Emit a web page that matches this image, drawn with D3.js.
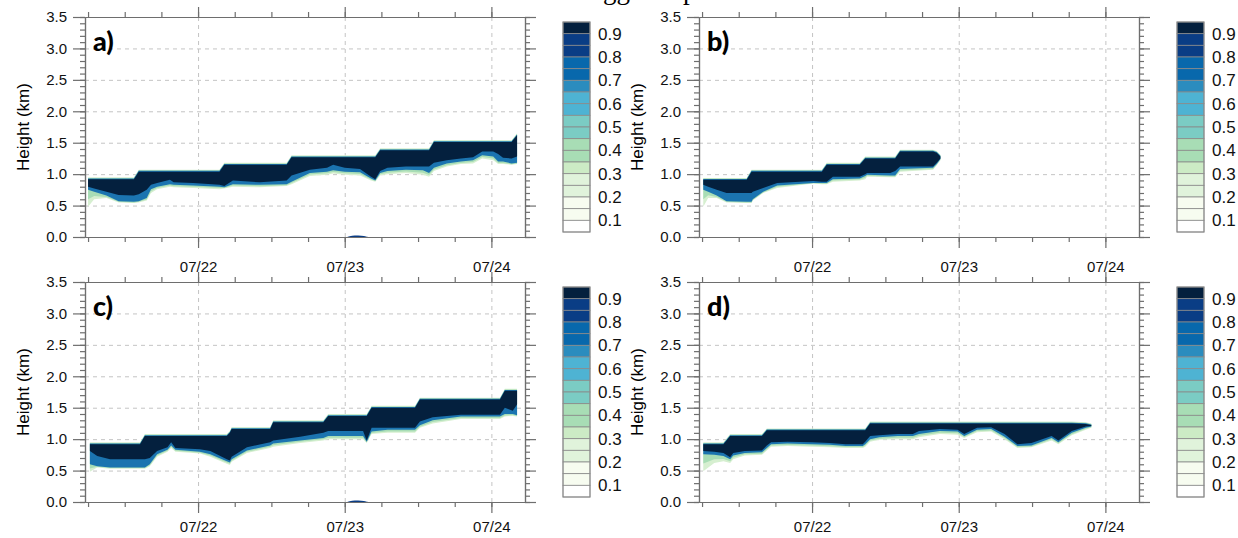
<!DOCTYPE html>
<html>
<head>
<meta charset="utf-8">
<script src="https://cdn.jsdelivr.net/npm/d3@7"></script>
<style>
  body { margin: 0; background: #fff; }
  svg { display: block; }
</style>
</head>
<body>
<script>
// time in hours since 07/21 00:00, height in km
const dayTicks = [24, 48, 72];
const dayLabels = ["07/22", "07/23", "07/24"];
const yMajor = [0, 0.5, 1.0, 1.5, 2.0, 2.5, 3.0, 3.5];
const cbLevels = [0.9, 0.85, 0.8, 0.75, 0.7, 0.65, 0.6, 0.55, 0.5, 0.45, 0.4, 0.35, 0.3, 0.25, 0.2, 0.15, 0.1];
const cbLabels = [0.9, 0.8, 0.7, 0.6, 0.5, 0.4, 0.3, 0.2, 0.1];
const cbColors = ["#04203e", "#0a3d85", "#0a3d85", "#0868ac", "#0868ac", "#2b8cbe", "#4eb3d3", "#4eb3d3",
  "#7bccc4", "#7bccc4", "#a8ddb5", "#a8ddb5", "#ccebc5", "#e0f3db", "#e0f3db", "#f7fcf0", "#f7fcf0", "#ffffff"];

// panel a
const tA = [6.0, 7.0, 9.0, 11.0, 13.5, 14.3, 15.6, 16.3, 17.3, 19.4, 20.0, 23.2, 27.5, 28.3, 29.7, 34.1, 38.5, 39.3,
  42.3, 45.1, 46.1, 48, 50.5, 52.3, 53.0, 53.8, 55, 58, 60.8, 61.8, 62.6, 64.7, 67, 69.0, 70.5, 72.3, 73.1, 73.9, 75.3, 76.2];
const topA = [0.92, 0.92, 0.92, 0.92, 0.92, 1.04, 1.04, 1.04, 1.04, 1.04, 1.04, 1.04, 1.04, 1.15, 1.15, 1.15, 1.15, 1.27,
  1.27, 1.27, 1.27, 1.27, 1.27, 1.27, 1.27, 1.38, 1.38, 1.38, 1.38, 1.38, 1.51, 1.51, 1.51, 1.51, 1.51, 1.51, 1.51, 1.51, 1.51, 1.62];
const coreA = [0.80, 0.77, 0.72, 0.67, 0.66, 0.68, 0.75, 0.83, 0.86, 0.91, 0.87, 0.86, 0.83, 0.81, 0.90, 0.87, 0.90, 0.98,
  1.07, 1.10, 1.15, 1.10, 1.08, 0.96, 0.92, 1.05, 1.10, 1.12, 1.12, 1.12, 1.18, 1.22, 1.25, 1.27, 1.36, 1.36, 1.32, 1.26, 1.25, 1.28];
const blueA = [0.75, 0.72, 0.66, 0.57, 0.56, 0.57, 0.62, 0.76, 0.80, 0.84, 0.83, 0.82, 0.80, 0.79, 0.84, 0.83, 0.84, 0.88,
  1.02, 1.04, 1.06, 1.04, 1.03, 0.93, 0.90, 1.02, 1.05, 1.07, 1.06, 1.02, 1.10, 1.17, 1.20, 1.22, 1.30, 1.28, 1.20, 1.20, 1.17, 1.18];
const lightA = [0.48, 0.60, 0.62, 0.55, 0.54, 0.55, 0.58, 0.70, 0.76, 0.80, 0.79, 0.78, 0.76, 0.77, 0.80, 0.79, 0.81, 0.84,
  0.97, 0.99, 1.01, 0.99, 0.98, 0.90, 0.88, 0.98, 1.00, 1.02, 0.99, 0.96, 1.05, 1.12, 1.16, 1.17, 1.25, 1.22, 1.16, 1.16, 1.15, 1.16];

// panel b
const tB = [6.2, 7.0, 8.4, 10.0, 13.3, 14.1, 14.3, 16.0, 18.3, 24.2, 25.6, 26.4, 27.4, 31.8, 32.7, 33.0, 36.8, 37.6, 38.4, 43.8, 44.4, 45.0];
const topB = [0.91, 0.91, 0.91, 0.91, 0.91, 1.04, 1.04, 1.04, 1.04, 1.04, 1.04, 1.15, 1.15, 1.15, 1.25, 1.25, 1.25, 1.25, 1.36, 1.36, 1.34, 1.28];
const coreB = [0.83, 0.80, 0.75, 0.70, 0.70, 0.70, 0.72, 0.78, 0.86, 0.89, 0.88, 0.88, 0.96, 0.96, 1.00, 1.02, 1.02, 1.05, 1.12, 1.12, 1.18, 1.25];
const blueB = [0.75, 0.72, 0.66, 0.57, 0.56, 0.56, 0.60, 0.72, 0.82, 0.86, 0.86, 0.86, 0.92, 0.93, 0.97, 0.99, 0.98, 0.98, 1.08, 1.10, 1.16, 1.24];
const lightB = [0.48, 0.62, 0.62, 0.55, 0.54, 0.54, 0.58, 0.70, 0.78, 0.85, 0.84, 0.84, 0.88, 0.90, 0.92, 0.96, 0.95, 0.95, 1.04, 1.07, 1.14, 1.22];

// panel c
const tC = [6.3, 7.5, 9.6, 14.5, 15.3, 16.1, 17.3, 19.0, 19.6, 20.3, 24.3, 26.0, 28.7, 29.2, 29.5, 32.0, 35.8, 36.3, 40.7,
  44.5, 45.3, 51.0, 51.6, 52.4, 55.0, 59.5, 60.3, 62.4, 67.0, 73.4, 74.2, 75.5, 76.2];
const topC = [0.92, 0.92, 0.92, 0.92, 1.05, 1.05, 1.05, 1.05, 1.05, 1.05, 1.05, 1.05, 1.05, 1.10, 1.16, 1.16, 1.16, 1.27, 1.27,
  1.27, 1.37, 1.37, 1.37, 1.50, 1.50, 1.50, 1.63, 1.63, 1.63, 1.63, 1.77, 1.77, 1.77];
const coreC = [0.81, 0.73, 0.68, 0.68, 0.68, 0.70, 0.81, 0.87, 0.95, 0.86, 0.84, 0.81, 0.68, 0.66, 0.72, 0.87, 0.95, 0.98, 1.04,
  1.10, 1.13, 1.13, 0.98, 1.18, 1.18, 1.18, 1.28, 1.35, 1.39, 1.39, 1.50, 1.45, 1.55];
const blueC = [0.60, 0.57, 0.55, 0.55, 0.55, 0.60, 0.76, 0.83, 0.90, 0.83, 0.80, 0.76, 0.65, 0.63, 0.68, 0.82, 0.90, 0.93, 0.98,
  1.02, 1.05, 1.05, 0.96, 1.12, 1.15, 1.15, 1.22, 1.30, 1.36, 1.36, 1.40, 1.40, 1.38];
const lightC = [0.48, 0.55, 0.53, 0.53, 0.53, 0.57, 0.72, 0.80, 0.86, 0.80, 0.77, 0.72, 0.61, 0.59, 0.64, 0.78, 0.86, 0.88, 0.94,
  0.98, 1.00, 1.00, 0.94, 1.08, 1.10, 1.10, 1.18, 1.25, 1.32, 1.32, 1.36, 1.37, 1.36];

// panel d
const tD = [6.2, 8.0, 9.5, 10.6, 11.1, 13.0, 15.8, 16.6, 17.3, 20.0, 24.0, 26.9, 29.5, 32.3, 32.7, 33.5, 35.0, 38.0, 40.5,
  41.5, 44.9, 47.8, 48.9, 51.0, 53.3, 55.5, 57.6, 59.9, 63.2, 64.3, 66.5, 68.8, 69.7];
const topD = [0.92, 0.92, 0.92, 1.05, 1.05, 1.05, 1.05, 1.14, 1.14, 1.14, 1.14, 1.14, 1.14, 1.14, 1.14, 1.25, 1.25, 1.25, 1.25,
  1.25, 1.25, 1.25, 1.25, 1.25, 1.25, 1.25, 1.25, 1.25, 1.25, 1.25, 1.25, 1.24, 1.22];
const coreD = [0.81, 0.80, 0.78, 0.71, 0.78, 0.81, 0.82, 0.90, 0.95, 0.96, 0.95, 0.94, 0.92, 0.92, 0.96, 1.05, 1.06, 1.08, 1.08,
  1.13, 1.16, 1.15, 1.08, 1.18, 1.19, 1.08, 0.92, 0.94, 1.05, 0.98, 1.13, 1.20, 1.21];
const blueD = [0.76, 0.75, 0.73, 0.68, 0.74, 0.78, 0.79, 0.86, 0.92, 0.93, 0.92, 0.91, 0.89, 0.89, 0.92, 1.00, 1.03, 1.05, 1.05,
  1.08, 1.13, 1.12, 1.05, 1.15, 1.16, 1.04, 0.89, 0.90, 1.02, 0.95, 1.10, 1.18, 1.20];
const lightD = [0.49, 0.62, 0.65, 0.62, 0.68, 0.74, 0.75, 0.82, 0.88, 0.89, 0.88, 0.87, 0.86, 0.86, 0.88, 0.96, 0.99, 1.00, 1.00,
  1.03, 1.08, 1.07, 1.02, 1.11, 1.12, 1.00, 0.86, 0.87, 0.98, 0.92, 1.06, 1.15, 1.18];

// small patch near the ground after 07/23 (panels a and c)
const tBlob = [48.4, 49.2, 50.2, 51.2, 51.8];
const hBlob = [0, 0.022, 0.028, 0.018, 0];

const panels = [
  { label: "a)", ox: 85, oy: 17, datePad: 13, t: tA, top: topA, core: coreA, blue: blueA, light: lightA, blob: true },
  { label: "b)", ox: 699, oy: 17, datePad: 13, t: tB, top: topB, core: coreB, blue: blueB, light: lightB, blob: false },
  { label: "c)", ox: 85, oy: 282, datePad: 8, t: tC, top: topC, core: coreC, blue: blueC, light: lightC, blob: true },
  { label: "d)", ox: 699, oy: 282, datePad: 8, t: tD, top: topD, core: coreD, blue: blueD, light: lightD, blob: false }
];

const W = 1238, H = 538, pw = 440, ph = 220;
const font = "'Liberation Sans', Arial, sans-serif";
const axisCol = "#6e6e6e";

const svg = d3.select("body").append("svg").attr("width", W).attr("height", H);

// title sits above the page edge, only its descenders show
svg.append("text").attr("x", 603).attr("y", -1).attr("font-family", "'Liberation Serif', serif")
  .attr("font-size", 27).text("gg");
svg.append("text").attr("x", 683).attr("y", -1).attr("font-family", "'Liberation Serif', serif")
  .attr("font-size", 27).text("p");

const x = d3.scaleLinear().domain([5.5, 77.5]).range([0, pw]);
const y = d3.scaleLinear().domain([0, 3.5]).range([ph, 0]);
const xMinor = d3.range(6, 78, 6);
const yMinor = d3.range(0, 3.51, 0.1);

panels.forEach((p, i) => {
  const g = svg.append("g").attr("transform", `translate(${p.ox},${p.oy})`);

  g.append("clipPath").attr("id", "clip" + i)
    .append("rect").attr("width", pw).attr("height", ph);

  // grid
  const grid = g.append("g").attr("stroke", "#c4c4c4").attr("stroke-dasharray", "4,4").attr("stroke-width", 1);
  grid.selectAll("line.h").data(yMajor.filter(v => v > 0 && v < 3.5)).join("line")
    .attr("x1", 0).attr("x2", pw).attr("y1", d => y(d) + 0.5).attr("y2", d => y(d) + 0.5);
  grid.selectAll("line.v").data(dayTicks).join("line")
    .attr("y1", 0).attr("y2", ph).attr("x1", d => x(d) + 0.5).attr("x2", d => x(d) + 0.5);

  const data = p.t.map((t, k) => ({ t, top: p.top[k], core: p.core[k], blue: p.blue[k], light: p.light[k] }));
  const field = g.append("g").attr("clip-path", `url(#clip${i})`);

  const layers = [
    { lo: "light", pad: 0.03, fill: "#d6efd0" },
    { lo: "light", pad: 0.02, fill: "#a8ddb5", shrink: 0.55 },
    { lo: "blue", pad: 0.012, fill: "#1b74b0" },
    { lo: "core", pad: 0, fill: "#04203e" }
  ];
  layers.forEach(L => {
    const area = d3.area()
      .x(d => x(d.t))
      .y0(d => L.shrink ? y(d.blue - (d.blue - d.light) * L.shrink) : y(d[L.lo]))
      .y1(d => y(d.top + L.pad));
    field.append("path").datum(data).attr("d", area).attr("fill", L.fill);
  });

  if (p.blob) {
    const blob = tBlob.map((t, k) => ({ t, h: hBlob[k] }));
    field.append("path").datum(blob)
      .attr("d", d3.area().x(d => x(d.t)).y0(y(0)).y1(d => y(d.h)).curve(d3.curveBasis))
      .attr("fill", "#0a3d85");
  }

  // axes
  const styleAxis = sel => {
    sel.selectAll("path, line").attr("stroke", axisCol).attr("stroke-width", 1.2);
    sel.selectAll("text").attr("font-family", font).attr("font-size", 15).attr("fill", "#111");
  };
  g.append("g").call(d3.axisLeft(y).tickValues(yMinor).tickSize(5).tickSizeOuter(0).tickFormat("")).call(styleAxis);
  g.append("g").call(d3.axisLeft(y).tickValues(yMajor).tickSize(12).tickSizeOuter(0).tickFormat(d3.format(".1f")).tickPadding(6)).call(styleAxis);
  g.append("g").attr("transform", `translate(${pw},0)`)
    .call(d3.axisRight(y).tickValues(yMinor).tickSize(5).tickSizeOuter(0).tickFormat("")).call(styleAxis);
  g.append("g").attr("transform", `translate(${pw},0)`)
    .call(d3.axisRight(y).tickValues(yMajor).tickSize(11).tickSizeOuter(0).tickFormat("")).call(styleAxis);
  g.append("g").call(d3.axisTop(x).tickValues(xMinor).tickSize(5).tickSizeOuter(0).tickFormat("")).call(styleAxis);
  g.append("g").call(d3.axisTop(x).tickValues(dayTicks).tickSize(10).tickSizeOuter(0).tickFormat("")).call(styleAxis);
  g.append("g").attr("transform", `translate(0,${ph})`)
    .call(d3.axisBottom(x).tickValues(xMinor).tickSize(5).tickSizeOuter(0).tickFormat("")).call(styleAxis);
  g.append("g").attr("transform", `translate(0,${ph})`)
    .call(d3.axisBottom(x).tickValues(dayTicks).tickSize(11).tickSizeOuter(0)
      .tickFormat((d, k) => dayLabels[k]).tickPadding(p.datePad)).call(styleAxis);

  // panel letter
  g.append("text").attr("x", 8).attr("y", 34).attr("font-family", "Lato, 'Open Sans', sans-serif")
    .attr("font-weight", 900).attr("font-size", 27).attr("fill", "#000").text(p.label);

  // y label
  g.append("text").attr("transform", `translate(-56,${ph / 2}) rotate(-90)`)
    .attr("text-anchor", "middle").attr("font-family", font).attr("font-size", 17).attr("fill", "#000")
    .text("Height (km)");

  // colorbar
  const cb = g.append("g").attr("transform", `translate(478,5)`);
  const cbH = 210, cbW = 27;
  const cy = d3.scaleLinear().domain([0.95, 0.05]).range([0, cbH]);
  const edges = [0.95, ...cbLevels, 0.05];
  cb.selectAll("rect").data(cbColors).join("rect")
    .attr("x", 0).attr("width", cbW)
    .attr("y", (d, k) => cy(edges[k])).attr("height", (d, k) => cy(edges[k + 1]) - cy(edges[k]))
    .attr("fill", d => d).attr("stroke", "#8a8a8a").attr("stroke-width", 0.8);
  cb.append("rect").attr("width", cbW).attr("height", cbH).attr("fill", "none")
    .attr("stroke", "#8a8a8a").attr("stroke-width", 1);
  cb.selectAll("text").data(cbLabels).join("text")
    .attr("x", cbW + 8).attr("y", d => cy(d)).attr("dy", "0.36em")
    .attr("font-family", font).attr("font-size", 17).attr("fill", "#111")
    .text(d => d3.format(".1f")(d));
});
</script>
</body>
</html>
